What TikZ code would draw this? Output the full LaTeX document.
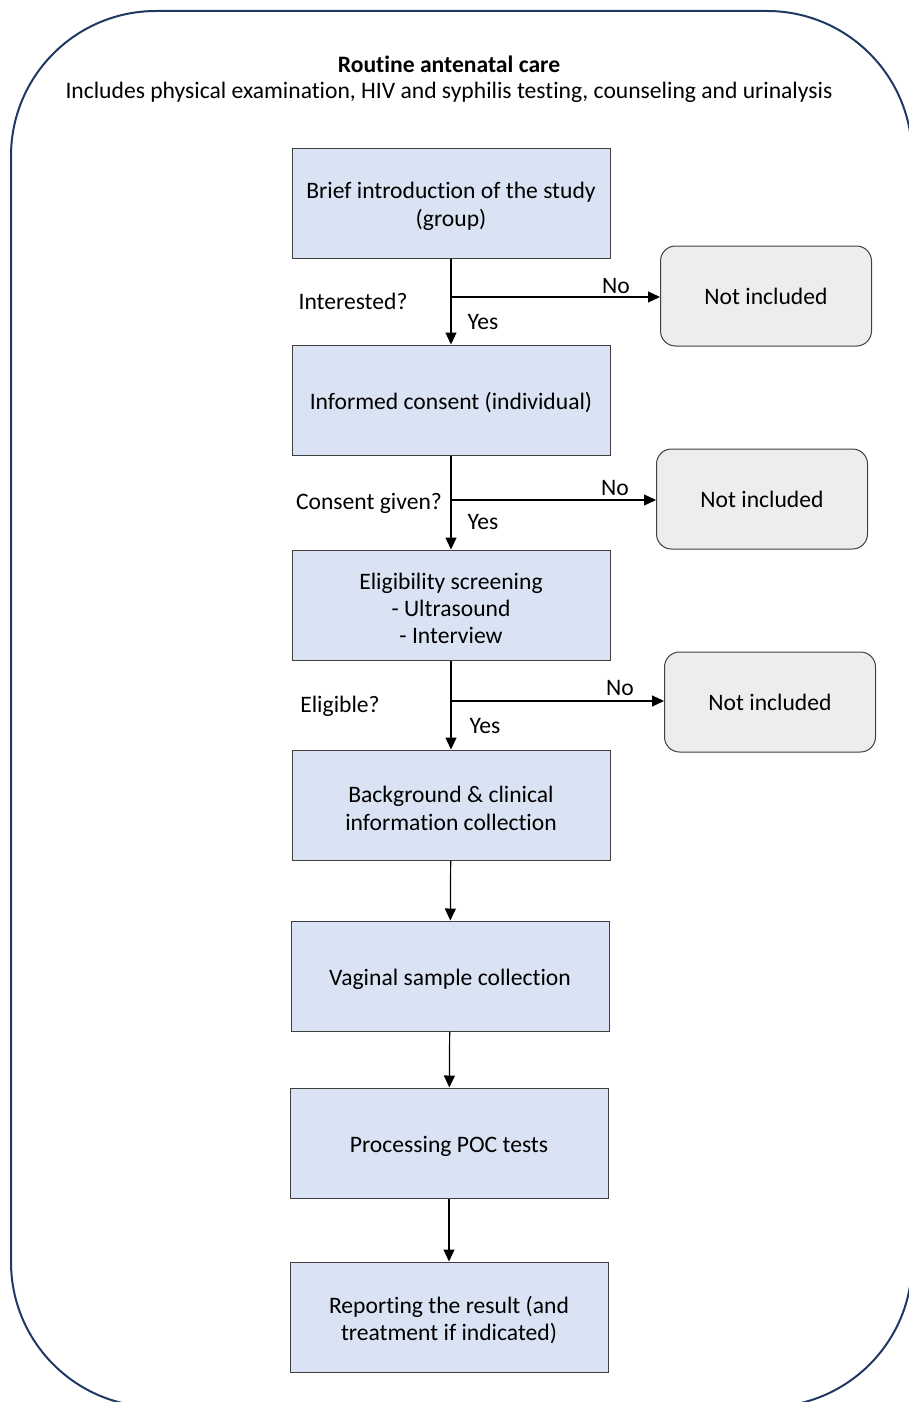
\documentclass[tikz,border=0pt]{standalone}
\usepackage{fontspec}
\setmainfont[Ligatures=NoCommon]{Carlito}
\usetikzlibrary{arrows.meta}
\definecolor{stepblue}{HTML}{DAE3F3}
\definecolor{outgray}{HTML}{EDEDED}
\definecolor{framenavy}{HTML}{203864}
\newcommand{\boxstrut}{\rule{0pt}{11.5pt}}
\tikzstyle{step box}=[draw=black!75, fill=stepblue, line width=0.5pt, minimum width=159pt, minimum height=55pt, align=center, inner sep=2pt]
\tikzstyle{out box}=[draw=black!75, fill=outgray, rounded corners=7.5pt, line width=0.5pt, minimum width=105.5pt, minimum height=50pt, align=center]
\tikzstyle{flow} = [draw, line width=0.6pt, -{Triangle[length=6pt,width=5.5pt]}]
\tikzstyle{note} = [draw=none, inner sep=0pt, align=center]

\begin{document}
\begin{tikzpicture}[x=0.5pt, y=-0.5pt, font=\fontsize{11.8}{13.6}\selectfont]
		% Frame and heading
		\useasboundingbox (0,0) rectangle (909,1402);
		\clip (0,0) rectangle (909,1402);
		\draw[framenavy, line width=1pt, rounded corners=72.5pt] (11,11) rectangle (912,1407);
		\node[note] (title) at (449,64) {\textbf{Routine antenatal care}};
		\node[note] (subtitle) at (449,92) {Includes physical examination, HIV and syphilis testing, counseling and urinalysis};
		
		% Then the steps of the flow
		\foreach \pos/\label/\name in {
			{(451,203)/intro/{Brief introduction of the study\\(group)}},
			{(451,400)/consent/{Informed consent (individual)}},
			{(451,605)/screen/{Eligibility screening\\- Ultrasound\\- Interview}},
			{(451,805)/background/{Background \& clinical\\information collection}},
			{(450,976)/sample/{Vaginal sample collection}},
			{(449,1143)/poc/{Processing POC tests}},
			{(449,1317)/report/{Reporting the result (and\\treatment if indicated)}}}
		\node[step box] (\label) at \pos {\boxstrut\name};
		
		\foreach \pos/\label in {(766,296)/out1, (762,499)/out2, (770,702)/out3}
		\node[out box] (\label) at \pos {Not included};
		
		% Forks where the No branches leave
		\coordinate (fork1) at (451,297);
		\coordinate (fork2) at (451,500);
		\coordinate (fork3) at (451,701);
		
		% Connect the steps and write the decisions
		\foreach \source/ \dest in {
			intro/consent, consent/screen, screen/background,
			background/sample, sample/poc, poc/report}
		\path[flow] (\source) -- (\dest);
		\foreach \fork/ \dest in {fork1/out1, fork2/out2, fork3/out3}
		\path[flow] (\fork) -- (\fork -| \dest.west);
		
		\foreach \pos/\label/\name in {
			{(353,301)/ask1/Interested?}, {(369,503)/ask2/Consent given?}, {(340,706)/ask3/Eligible?},
			{(616,286)/no1/No}, {(615,488)/no2/No}, {(620,688)/no3/No},
			{(483,322)/yes1/Yes}, {(483,522)/yes2/Yes}, {(485,726)/yes3/Yes}}
		\node[note] (\label) at \pos {\name};
\end{tikzpicture}
\end{document}
